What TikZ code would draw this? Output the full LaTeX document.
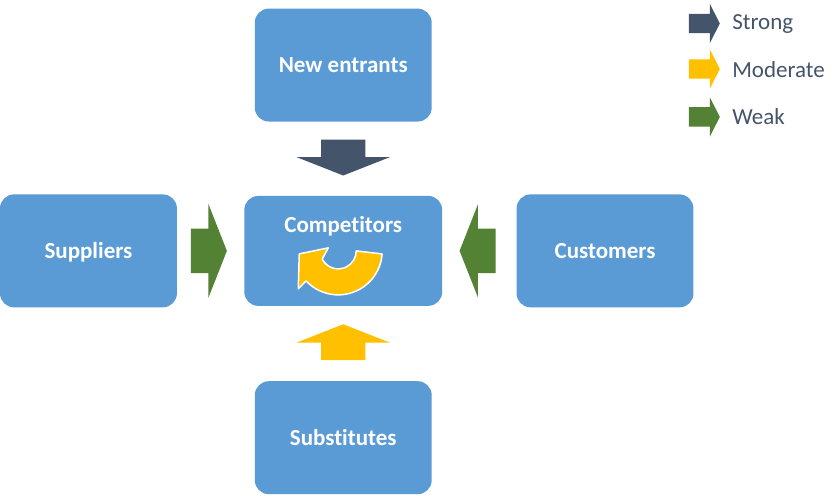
\documentclass[tikz,border=0pt]{standalone}
\usepackage{fontspec}
\setmainfont{Carlito}[Ligatures=NoCommon]
\usetikzlibrary{shapes.arrows, positioning, calc}

\definecolor{boxblue}{HTML}{5B9BD5}
\definecolor{colStrong}{HTML}{44546A}
\definecolor{colModerate}{HTML}{FFC000}
\definecolor{colWeak}{HTML}{548235}

\begin{document}
\begin{tikzpicture}[
    x=1pt, y=1pt,
    box/.style={rectangle, rounded corners=14pt, fill=boxblue, text=white,
                minimum width=177pt, minimum height=113pt, inner sep=0pt,
                text height=20pt, text depth=5pt,
                font=\fontsize{23}{27}\selectfont\bfseries},
    force/.style={single arrow, fill=#1, inner xsep=0pt, inner ysep=22pt,
                  minimum width=0pt, minimum height=36pt, anchor=tip,
                  single arrow head extend=24.5pt, single arrow tip angle=137},
    legarrow/.style={single arrow, fill=#1, inner xsep=0pt, inner ysep=9.5pt,
                  minimum width=0pt, minimum height=31pt, anchor=tip,
                  single arrow head extend=10pt, single arrow tip angle=126},
    legtext/.style={anchor=base west, inner sep=0pt, text=colStrong,
                  font=\fontsize{23}{27}\selectfont},
]
\fill[white] (0,0) rectangle (840,496);

% ── Five forces ──
\node[box, minimum width=198pt, minimum height=110pt,
      label={[anchor=north, yshift=-20pt, inner sep=0pt, text=white,
              font=\fontsize{23}{27}\selectfont\bfseries]north:Competitors}] (comp) at (343,245) {};
\node[box, above=74pt of comp] (entr) {New entrants};
\node[box, below=75pt of comp] (subst) {Substitutes};
\node[box, left=67pt of comp] (supp) {Suppliers};
\node[box, right=74pt of comp] (cust) {Customers};

% ── Rivalry (curved arrow) ──
\coordinate (rc) at ($(comp.center)+(-5,0)$);
\filldraw[fill=colModerate, draw=white, line width=1.5pt, line join=round]
  ($(rc)+(-4:44pt)$) arc[start angle=-4, end angle=-137, radius=44pt]
  -- ($(comp.center)+(-45,-38)$) -- ($(comp.center)+(-44,-3)$)
  -- ($(comp.center)+(-15,3)$)
  -- ($(rc)+(-153:18pt)$) arc[start angle=-153, end angle=0, radius=18pt] -- cycle;

% ── Force arrows ──
\node[force=colStrong, rotate=-90] (fnew) at ($(comp.north)+(0,20)$) {};
\node[force=colModerate, rotate=90] (fsub) at ($(comp.south)+(0,-18)$) {};
\node[force=colWeak] (fsup) at ($(comp.west)+(-17,0)$) {};
\node[force=colWeak, rotate=180] (fcus) at ($(comp.east)+(17,0)$) {};

% ── Legend ──
\node[legarrow=colStrong] (ls) at (720,472.5) {};
\node[legarrow=colModerate] (lm) at (720,427) {};
\node[legarrow=colWeak] (lw) at (720,379) {};
\node[legtext] (tstrong) at ($(ls.tip)+(12,-6)$) {Strong};
\node[legtext] (tmod) at ($(lm.tip)+(12,-9)$) {Moderate};
\node[legtext] (tweak) at ($(lw.tip)+(12,-8)$) {Weak};

\end{tikzpicture}
\end{document}
